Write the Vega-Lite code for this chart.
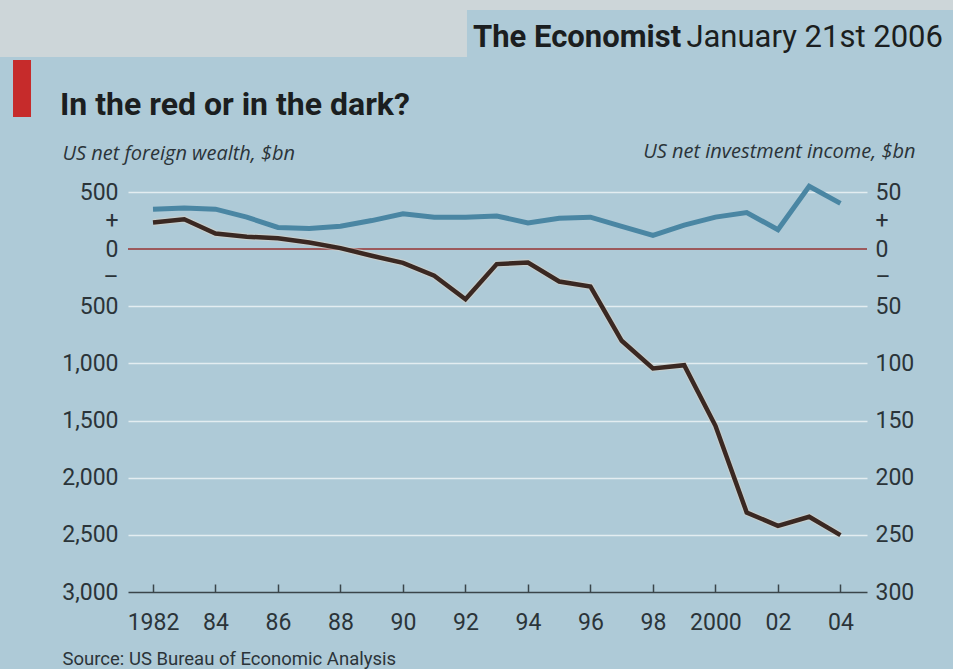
{
  "$schema": "https://vega.github.io/schema/vega-lite/v6.json",
  "width": 739,
  "height": 400,
  "autosize": {"type": "none"},
  "padding": {"left": 128, "top": 192, "right": 86, "bottom": 77},
  "background": "#aecad7",
  "config": {
    "view": {"stroke": null},
    "font": "Roboto",
    "axis": {"labelFont": "Roboto", "titleFont": "Roboto", "labelColor": "#2b3439", "titleColor": "#2b3439"}
  },
  "data": {"values": [
    {"year": 1982, "wealth": 234, "income": 35},
    {"year": 1983, "wealth": 262, "income": 36},
    {"year": 1984, "wealth": 137, "income": 35},
    {"year": 1985, "wealth": 108, "income": 28},
    {"year": 1986, "wealth": 96, "income": 19},
    {"year": 1987, "wealth": 58, "income": 18},
    {"year": 1988, "wealth": 9, "income": 20},
    {"year": 1989, "wealth": -58, "income": 25},
    {"year": 1990, "wealth": -120, "income": 31},
    {"year": 1991, "wealth": -233, "income": 28},
    {"year": 1992, "wealth": -438, "income": 28},
    {"year": 1993, "wealth": -131, "income": 29},
    {"year": 1994, "wealth": -117, "income": 23},
    {"year": 1995, "wealth": -283, "income": 27},
    {"year": 1996, "wealth": -327, "income": 28},
    {"year": 1997, "wealth": -802, "income": 20},
    {"year": 1998, "wealth": -1044, "income": 12},
    {"year": 1999, "wealth": -1015, "income": 21},
    {"year": 2000, "wealth": -1546, "income": 28},
    {"year": 2001, "wealth": -2304, "income": 32},
    {"year": 2002, "wealth": -2421, "income": 17},
    {"year": 2003, "wealth": -2342, "income": 55},
    {"year": 2004, "wealth": -2502, "income": 40}
  ]},
  "resolve": {"scale": {"y": "independent"}},
  "layer": [
    {
      "layer": [
        {
          "mark": {"type": "rule", "color": "#9c5a5c", "strokeWidth": 1.2},
          "encoding": {
            "y": {"datum": 0, "type": "quantitative", "scale": {"domain": [-3000, 500], "nice": false, "zero": false}}
          }
        },
        {
          "mark": {"type": "line", "color": "#d9d2c6", "strokeWidth": 7, "opacity": 0.5, "strokeJoin": "miter"},
          "encoding": {
            "x": {"field": "year", "type": "quantitative", "scale": {"domain": [1981.2, 2004.85], "nice": false, "zero": false}},
            "y": {"field": "wealth", "type": "quantitative", "scale": {"domain": [-3000, 500], "nice": false, "zero": false}}
          }
        },
        {
          "mark": {"type": "line", "color": "#3a2822", "strokeWidth": 4.5, "strokeJoin": "miter"},
          "encoding": {
            "x": {
              "field": "year", "type": "quantitative",
              "scale": {"domain": [1981.2, 2004.85], "nice": false, "zero": false},
              "axis": {
                "values": [1982, 1983, 1984, 1985, 1986, 1987, 1988, 1989, 1990, 1991, 1992, 1993, 1994, 1995, 1996, 1997, 1998, 1999, 2000, 2001, 2002, 2003, 2004],
                "labelExpr": "datum.value % 2 != 0 ? '' : (datum.value == 1982 || datum.value == 2000) ? toString(datum.value) : substring(toString(datum.value), 2, 4)",
                "tickSize": {"condition": {"test": "datum.value % 2 == 0", "value": -8}, "value": -4},
                "tickColor": "#3a454a",
                "tickWidth": 1.5,
                "domainColor": "#3a454a",
                "domainWidth": 1.5,
                "grid": false,
                "labelPadding": 27,
                "labelFontSize": 23,
                "labelBaseline": "top",
                "labelFlush": false,
                "labelOverlap": false,
                "title": "Source: US Bureau of Economic Analysis",
                "titleX": -66,
                "titleY": 72,
                "titleAlign": "left",
                "titleAnchor": "start",
                "titleBaseline": "alphabetic",
                "titleFontSize": 18.5,
                "titleFontWeight": "normal"
              }
            },
            "y": {
              "field": "wealth", "type": "quantitative",
              "scale": {"domain": [-3000, 500], "nice": false, "zero": false},
              "axis": {
                "orient": "left",
                "values": [500, 250, 0, -250, -500, -1000, -1500, -2000, -2500, -3000],
                "labelExpr": "datum.value == 250 ? '+' : datum.value == -250 ? '–' : format(abs(datum.value), ',')",
                "ticks": false,
                "domain": false,
                "labelPadding": 10,
                "labelFontSize": 23,
                "grid": true,
                "gridColor": "#e9f1f4",
                "gridWidth": 1.6,
                "gridOpacity": {"condition": {"test": "abs(datum.value) == 250 || datum.value == 0 || datum.value == -3000", "value": 0}, "value": 0.9},
                "title": "US net foreign wealth, $bn",
                "titleAngle": 0,
                "titleX": -66,
                "titleY": -33,
                "titleAlign": "left",
                "titleBaseline": "alphabetic",
                "titleFont": "Open Sans",
                "titleFontStyle": "italic",
                "titleFontWeight": "normal",
                "titleFontSize": 20
              }
            }
          }
        },
        {
          "data": {"values": [{}]},
          "mark": {"type": "rect", "color": "#cdd6d9"},
          "encoding": {
            "x": {"datum": 1977.104, "type": "quantitative", "scale": {"domain": [1981.2, 2004.85], "nice": false, "zero": false}},
            "x2": {"datum": 1992.048},
            "y": {"datum": 2180, "type": "quantitative", "scale": {"domain": [-3000, 500], "nice": false, "zero": false}},
            "y2": {"datum": 1681.25}
          }
        },
        {
          "data": {"values": [{}]},
          "mark": {"type": "rect", "color": "#cdd6d9"},
          "encoding": {
            "x": {"datum": 1991.9, "type": "quantitative", "scale": {"domain": [1981.2, 2004.85], "nice": false, "zero": false}},
            "x2": {"datum": 2007.7},
            "y": {"datum": 2180, "type": "quantitative", "scale": {"domain": [-3000, 500], "nice": false, "zero": false}},
            "y2": {"datum": 2092.5}
          }
        },
        {
          "data": {"values": [{}]},
          "mark": {"type": "rect", "color": "#c62b2b"},
          "encoding": {
            "x": {"datum": 1977.52, "type": "quantitative", "scale": {"domain": [1981.2, 2004.85], "nice": false, "zero": false}},
            "x2": {"datum": 1978.096},
            "y": {"datum": 1655, "type": "quantitative", "scale": {"domain": [-3000, 500], "nice": false, "zero": false}},
            "y2": {"datum": 1156.25}
          }
        },
        {
          "data": {"values": [{}]},
          "mark": {"type": "text", "text": "The Economist", "align": "left", "baseline": "alphabetic", "font": "Roboto", "fontSize": 31, "fontWeight": "bold", "color": "#1b1e20"},
          "encoding": {
            "x": {"datum": 1992.24, "type": "quantitative", "scale": {"domain": [1981.2, 2004.85], "nice": false, "zero": false}},
            "y": {"datum": 1768.75, "type": "quantitative", "scale": {"domain": [-3000, 500], "nice": false, "zero": false}}
          }
        },
        {
          "data": {"values": [{}]},
          "mark": {"type": "text", "text": "January 21st 2006", "align": "right", "baseline": "alphabetic", "font": "Roboto", "fontSize": 31, "fontWeight": "normal", "color": "#1b1e20"},
          "encoding": {
            "x": {"datum": 2007.28, "type": "quantitative", "scale": {"domain": [1981.2, 2004.85], "nice": false, "zero": false}},
            "y": {"datum": 1768.75, "type": "quantitative", "scale": {"domain": [-3000, 500], "nice": false, "zero": false}}
          }
        },
        {
          "data": {"values": [{}]},
          "mark": {"type": "text", "text": "In the red or in the dark?", "align": "left", "baseline": "alphabetic", "font": "Roboto", "fontSize": 32, "fontWeight": "bold", "color": "#1b1e20"},
          "encoding": {
            "x": {"datum": 1979.024, "type": "quantitative", "scale": {"domain": [1981.2, 2004.85], "nice": false, "zero": false}},
            "y": {"datum": 1173.75, "type": "quantitative", "scale": {"domain": [-3000, 500], "nice": false, "zero": false}}
          }
        }
      ]
    },
    {
      "mark": {"type": "line", "color": "#4a86a3", "strokeWidth": 5, "strokeJoin": "miter"},
      "encoding": {
        "x": {"field": "year", "type": "quantitative", "scale": {"domain": [1981.2, 2004.85], "nice": false, "zero": false}},
        "y": {
          "field": "income", "type": "quantitative",
          "scale": {"domain": [-300, 50], "nice": false, "zero": false},
          "axis": {
            "orient": "right",
            "values": [50, 25, 0, -25, -50, -100, -150, -200, -250, -300],
            "labelExpr": "datum.value == 25 ? '+' : datum.value == -25 ? '–' : format(abs(datum.value), ',')",
            "ticks": false,
            "domain": false,
            "grid": false,
            "labelPadding": 8,
            "labelFontSize": 23,
            "title": "US net investment income, $bn",
            "titleAngle": 0,
            "titleX": 48,
            "titleY": -35,
            "titleAlign": "right",
            "titleBaseline": "alphabetic",
            "titleFont": "Open Sans",
            "titleFontStyle": "italic",
            "titleFontWeight": "normal",
            "titleFontSize": 20
          }
        }
      }
    }
  ]
}
